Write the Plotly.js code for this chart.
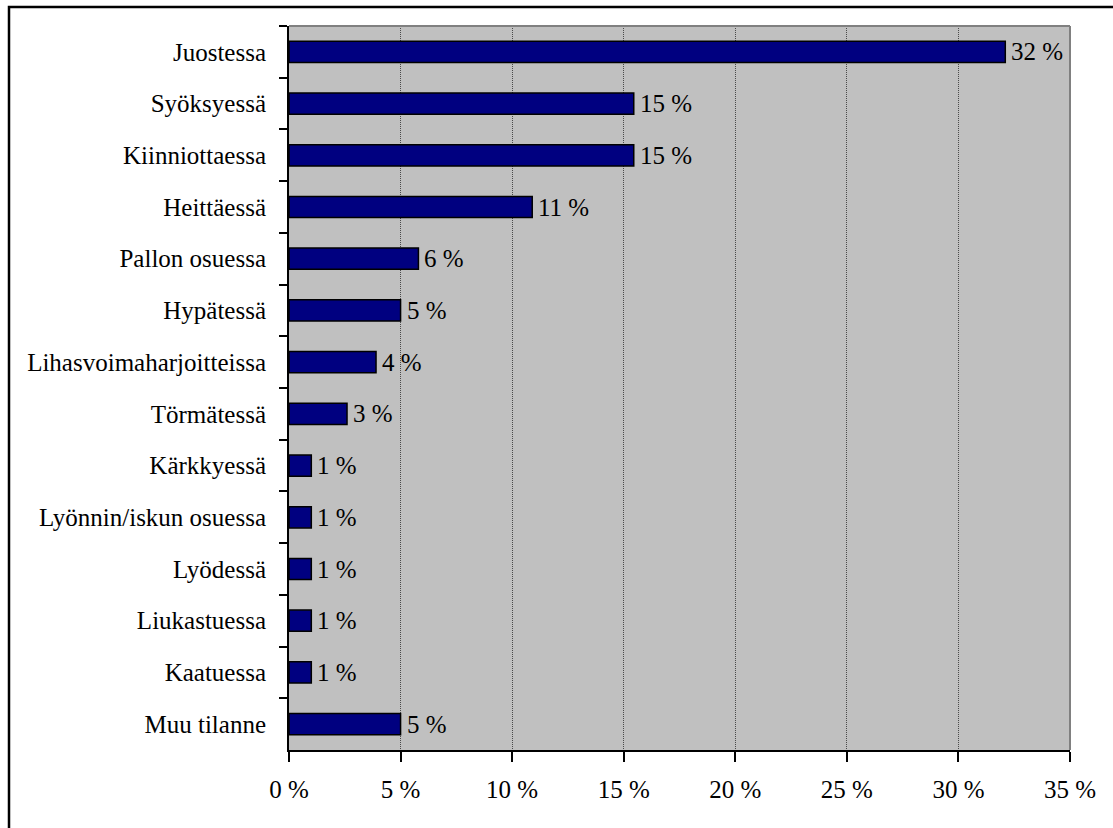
<!DOCTYPE html>
<html>
<head>
<meta charset="utf-8">
<script src="https://cdn.plot.ly/plotly-3.0.1.min.js"></script>
<style>
html,body{margin:0;padding:0;background:#fff;}
#chart{width:1113px;height:828px;}
</style>
</head>
<body>
<div id="chart"></div>
<script>
const categories = ["Juostessa","Syöksyessä","Kiinniottaessa","Heittäessä","Pallon osuessa","Hypätessä","Lihasvoimaharjoitteissa","Törmätessä","Kärkkyessä","Lyönnin/iskun osuessa","Lyödessä","Liukastuessa","Kaatuessa","Muu tilanne"];
const values = [32.1, 15.45, 15.45, 10.9, 5.8, 5.0, 3.9, 2.6, 1.0, 1.0, 1.0, 1.0, 1.0, 5.0];
const valueLabels = ["32 %","15 %","15 %","11 %","6 %","5 %","4 %","3 %","1 %","1 %","1 %","1 %","1 %","5 %"];
const xTickVals = [0,5,10,15,20,25,30,35];
const xTickText = ["0 %","5 %","10 %","15 %","20 %","25 %","30 %","35 %"];

const font = {family: "Liberation Serif, Times New Roman, serif", size: 25, color: "#000"};

const trace = {
  type: "bar",
  orientation: "h",
  y: categories,
  x: values,
  marker: {color: "#000080", line: {color: "#000", width: 1.5}},
  hoverinfo: "none"
};

const labelAnnotations = categories.map((c, i) => ({
  x: values[i], y: c, xref: "x", yref: "y",
  text: valueLabels[i], showarrow: false,
  xanchor: "left", yanchor: "middle", xshift: 4,
  font: font
}));

const L = 289, R = 1070, T = 26, B = 750, W = 1113, H = 828;
const px = v => (v - L) / (R - L);
const py = v => (B - v) / (B - T);

const layout = {
  width: W, height: H,
  margin: {l: L, r: W - R, t: T, b: H - B, pad: 0},
  paper_bgcolor: "#fff",
  plot_bgcolor: "#C0C0C0",
  bargap: 0.59,
  showlegend: false,
  font: font,
  xaxis: {
    range: [0, 35],
    tickvals: xTickVals,
    ticktext: xTickText,
    showgrid: true,
    gridcolor: "#4a4a4a",
    griddash: "1px,1px",
    gridwidth: 1,
    zeroline: false,
    showline: true,
    linecolor: "#000",
    linewidth: 2,
    ticks: "outside",
    ticklen: 10,
    tickwidth: 2,
    tickcolor: "#000",
    ticklabelstandoff: 6,
    tickfont: font,
    fixedrange: true
  },
  yaxis: {
    type: "category",
    autorange: "reversed",
    tickson: "boundaries",
    ticks: "outside",
    ticklen: 8,
    tickwidth: 2,
    tickcolor: "#000",
    showline: true,
    linecolor: "#000",
    linewidth: 2,
    showgrid: false,
    ticklabelstandoff: 16,
    tickfont: font,
    fixedrange: true
  },
  annotations: labelAnnotations,
  shapes: [
    {type: "line", xref: "paper", yref: "paper", x0: 0, x1: 1, y0: 1, y1: 1, line: {color: "#808080", width: 2}},
    {type: "line", xref: "paper", yref: "paper", x0: 1, x1: 1, y0: 0, y1: 1, line: {color: "#808080", width: 2}},
    {type: "rect", xref: "paper", yref: "paper", x0: px(9), x1: px(1130), y0: py(7), y1: py(845), line: {color: "#000", width: 2.5}, fillcolor: "rgba(0,0,0,0)"}
  ]
};

Plotly.newPlot("chart", [trace], layout, {displayModeBar: false, staticPlot: true});
</script>
</body>
</html>
